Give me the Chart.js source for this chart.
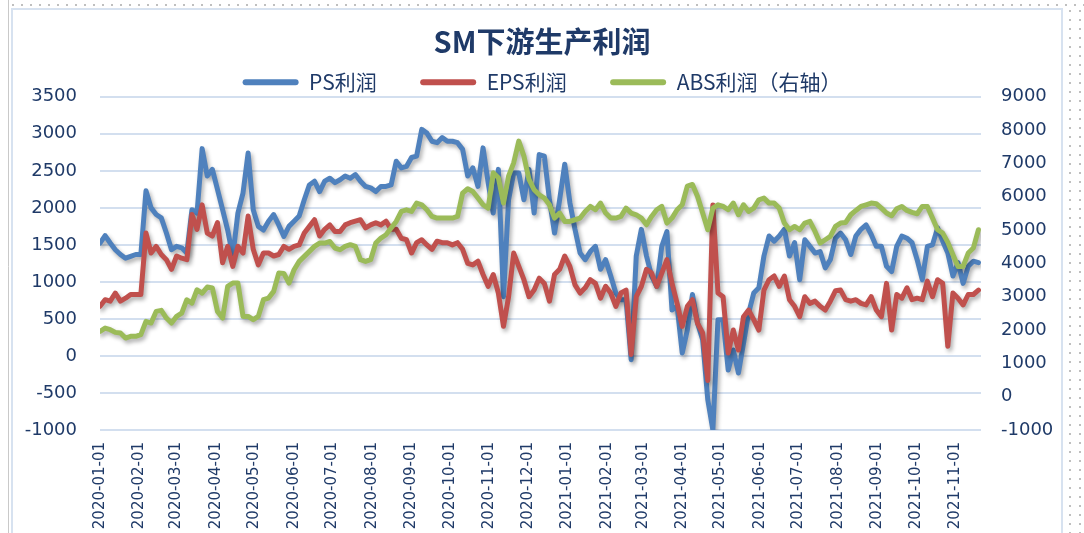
<!DOCTYPE html>
<html>
<head>
<meta charset="utf-8">
<script src="https://cdn.jsdelivr.net/npm/chart.js@4/dist/chart.umd.min.js"></script>
<style>
  html, body { margin: 0; padding: 0; background: #fff; }
  canvas { display: block; }
</style>
</head>
<body>
<canvas id="chart" width="1084" height="533"></canvas>
<script>
// sampled every 4 days starting 2020-01-01
const startDate = "2020-01-01";
const stepDays = 4;

const psProfit = [
  1525, 1625, 1525, 1435, 1370, 1320, 1345, 1370, 1370, 2230,
  2000, 1910, 1865, 1660, 1435, 1480, 1460, 1390, 1975, 1930,
  2800, 2430, 2520, 2250, 1975, 1700, 1345, 1930, 2200, 2740,
  1975, 1750, 1700, 1820, 1910, 1770, 1615, 1750, 1820, 1890,
  2110, 2310, 2360, 2220, 2360, 2400, 2340, 2380, 2430, 2400,
  2450, 2360, 2290, 2270, 2220, 2290, 2290, 2310, 2630, 2540,
  2560, 2680, 2700, 3060, 3010, 2900, 2880, 2950, 2900, 2900,
  2880, 2790, 2430, 2540, 2290, 2810, 2340, 1930, 2520, 800,
  2110, 2470, 2470, 2110, 2520, 1930, 2720, 2700, 2110, 1660,
  2110, 2590, 2070, 1710, 1390, 1300, 1410, 1480, 1170, 1300,
  1080, 850, 760, 760, -50, 1350, 1710, 1350, 1080, 940,
  1480, 1680, 620, 670, 40, 350, 830, 440, 220, -590,
  -1000, 490, 490, -190, 80, -230, 170, 580, 850, 920,
  1350, 1620, 1550, 1620, 1710, 1350, 1530, 1030, 1570, 1480,
  1390, 1410, 1190, 1300, 1590, 1660, 1570, 1370, 1620, 1710,
  1770, 1640, 1480, 1480, 1210, 1140, 1480, 1620, 1590, 1530,
  1300, 1030, 1480, 1500, 1730, 1550, 1390, 1080, 1260, 980,
  1210, 1280, 1260
];

const epsProfit = [
  670, 760, 740, 850, 740, 780, 830, 830, 830, 1660,
  1390, 1480, 1370, 1300, 1170, 1350, 1320, 1300, 1910, 1710,
  2040, 1660, 1620, 1800, 1260, 1480, 1210, 1480, 1390, 1890,
  1440, 1230, 1390, 1390, 1350, 1370, 1480, 1440, 1480, 1500,
  1660, 1750, 1840, 1620, 1710, 1770, 1680, 1680, 1770, 1800,
  1820, 1840, 1730, 1770, 1800, 1770, 1820, 1710, 1710, 1590,
  1570, 1390, 1530, 1570, 1500, 1440, 1550, 1530, 1530, 1500,
  1530, 1440, 1250, 1230, 1280, 1100, 940, 1100, 850, 400,
  800, 1390, 1210, 1030, 800, 890, 1050, 980, 740, 1100,
  1170, 1350, 1210, 960, 850, 920, 1030, 980, 780, 940,
  850, 670, 850, 890, 20, 800, 940, 1170, 1120, 940,
  1120, 1300, 980, 710, 400, 670, 760, 440, 310, -330,
  2040, 850, 800, 40, 350, 80, 530, 620, 490, 350,
  890, 1030, 1080, 940, 1080, 760, 670, 530, 800, 710,
  740, 670, 620, 740, 880, 890, 760, 740, 760, 710,
  690, 800, 620, 530, 980, 350, 830, 780, 920, 760,
  780, 760, 1010, 800, 1030, 980, 130, 850, 780, 690,
  830, 830, 890
];

// right axis
const absProfit = [
  1960, 2060, 2010, 1930, 1910, 1760, 1810, 1810, 1860, 2260,
  2210, 2560, 2590, 2360, 2210, 2410, 2510, 2910, 2810, 3210,
  3110, 3290, 3260, 2560, 2360, 3310, 3410, 3410, 2410, 2410,
  2310, 2410, 2910, 2960, 3160, 3710, 3700, 3410, 3810, 4060,
  4210, 4360, 4510, 4610, 4610, 4660, 4460, 4410, 4510, 4560,
  4510, 4110, 4060, 4110, 4610, 4760, 4860, 5060, 5260, 5560,
  5610, 5560, 5810, 5760, 5610, 5410, 5360, 5360, 5360, 5360,
  5410, 6110, 6240, 6160, 5960, 5760, 5660, 6720, 6570, 5810,
  6620, 7020, 7670, 7220, 6520, 6210, 6060, 5960, 5760, 5360,
  5510, 5260, 5260, 5310, 5360, 5560, 5710, 5610, 5810, 5510,
  5360, 5360, 5410, 5660, 5510, 5460, 5360, 5160, 5410, 5610,
  5710, 5210, 5360, 5610, 5760, 6320, 6370, 6010, 5510, 5010,
  5660, 5760, 5710, 5610, 5810, 5460, 5760, 5560, 5660, 5910,
  5960, 5810, 5810, 5660, 5210, 5010, 5110, 5010, 5210, 5260,
  4960, 4610, 4710, 4810, 5110, 5210, 5230, 5460, 5590, 5710,
  5760, 5810, 5790, 5660, 5510, 5430, 5640, 5710, 5590, 5530,
  5490, 5710, 5710, 5360, 5010, 4910, 4630, 4260, 3910, 3910,
  4310, 4460, 5010
];

const leftTicks = { min: -1000, max: 3500, step: 500 };
const rightTicks = { min: -1000, max: 9000, step: 1000 };
const lastDay = 690;

const navy = "#1f3a68";
const dayMs = 86400000;
const t0 = Date.parse(startDate + "T00:00:00Z");

function toPoints(values) {
  return values.map((v, i) => ({ x: i * stepDays, y: v }));
}

function dayLabel(day) {
  const d = new Date(t0 + day * dayMs);
  const mm = String(d.getUTCMonth() + 1).padStart(2, "0");
  const dd = String(d.getUTCDate()).padStart(2, "0");
  return `${d.getUTCFullYear()}-${mm}-${dd}`;
}

// first day of each month on the axis
const monthTicks = [];
for (let y = 2020; y <= 2021; y++) {
  for (let m = 0; m < 12; m++) {
    const day = (Date.UTC(y, m, 1) - t0) / dayMs;
    if (day <= lastDay) monthTicks.push(day);
  }
}

const framePlugin = {
  id: "frame",
  beforeDraw(chart) {
    const c = chart.ctx;
    c.save();
    c.fillStyle = "#fff";
    c.fillRect(0, 0, chart.width, chart.height);
    c.strokeStyle = "#c9c9c9";
    c.lineWidth = 1;
    c.beginPath();
    c.moveTo(8.5, 0);
    c.lineTo(8.5, chart.height);
    c.stroke();
    c.fillStyle = "#bfbfbf";
    for (let x = 12; x < chart.width; x += 9) c.fillRect(x, 4, 2, 2);
    for (let y = 10; y < chart.height; y += 9) {
      c.fillRect(1069, y, 2, 2);
      c.fillRect(1079, y, 2, 2);
    }
    c.strokeStyle = "#d7e2f0";
    c.lineWidth = 2;
    c.strokeRect(12, 9, 1050, chart.height + 10);
    c.restore();
  },
};

const shadowPlugin = {
  id: "lineShadow",
  beforeDatasetsDraw(chart) {
    const c = chart.ctx;
    c.save();
    c.shadowColor = "rgba(0,0,0,0.32)";
    c.shadowBlur = 4;
    c.shadowOffsetX = 2;
    c.shadowOffsetY = 3;
  },
  afterDatasetsDraw(chart) {
    chart.ctx.restore();
  },
};

function lineSet(label, values, color, axis) {
  return {
    label,
    data: toPoints(values),
    borderColor: color,
    backgroundColor: color,
    borderWidth: 5,
    pointRadius: 0,
    tension: 0,
    borderJoinStyle: "round",
    borderCapStyle: "round",
    yAxisID: axis,
  };
}

new Chart(document.getElementById("chart"), {
  type: "line",
  data: {
    // drawn last = on top, legend reversed back to PS, EPS, ABS
    datasets: [
      lineSet("ABS利润（右轴）", absProfit, "#9bbb59", "y1"),
      lineSet("EPS利润", epsProfit, "#c0504d", "y"),
      lineSet("PS利润", psProfit, "#4f81bd", "y"),
    ],
  },
  options: {
    responsive: false,
    animation: false,
    devicePixelRatio: 1,
    layout: { padding: 0 },
    plugins: {
      tooltip: { enabled: false },
      title: {
        display: true,
        text: "SM下游生产利润",
        color: navy,
        font: { family: "'Noto Sans CJK SC'", size: 29, weight: "bold" },
        padding: { top: 25, bottom: 0 },
      },
      legend: {
        display: true,
        reverse: true,
        maxHeight: 37,
        labels: {
          color: navy,
          font: { family: "'Noto Sans CJK SC'", size: 21 },
          boxWidth: 56,
          boxHeight: 6,
          padding: 12,
          useBorderRadius: true,
          borderRadius: 3,
          generateLabels(chart) {
            const items = Chart.defaults.plugins.legend.labels.generateLabels(chart);
            return items.map((it) => ({
              ...it,
              lineWidth: 0,
              fillStyle: it.strokeStyle,
              text: it.text.startsWith("ABS") ? it.text : it.text + "\u3000\u2002",
            }));
          },
        },
      },
    },
    scales: {
      x: {
        type: "linear",
        min: 0,
        max: lastDay,
        grid: { display: false, drawTicks: false },
        border: { display: false },
        afterBuildTicks(s) {
          s.ticks = monthTicks.map((v) => ({ value: v }));
        },
        afterFit(s) {
          s.height = 103;
        },
        ticks: {
          autoSkip: false,
          minRotation: 90,
          maxRotation: 90,
          padding: 12,
          color: navy,
          font: { family: "'DejaVu Sans'", size: 15 },
          callback: (v) => dayLabel(v),
        },
      },
      y: {
        position: "left",
        min: leftTicks.min,
        max: leftTicks.max,
        grid: { color: "#d3dfef", lineWidth: 2, drawTicks: false },
        border: { display: false },
        afterFit(s) {
          s.width = 100;
        },
        ticks: {
          stepSize: leftTicks.step,
          padding: 23,
          color: navy,
          font: { family: "'DejaVu Sans'", size: 18 },
          callback: (v) => String(v),
        },
      },
      y1: {
        position: "right",
        min: rightTicks.min,
        max: rightTicks.max,
        grid: { drawOnChartArea: false, drawTicks: false },
        border: { display: false },
        afterFit(s) {
          s.width = 103;
        },
        ticks: {
          stepSize: rightTicks.step,
          padding: 20,
          color: navy,
          font: { family: "'DejaVu Sans'", size: 18 },
          callback: (v) => String(v),
        },
      },
    },
  },
  plugins: [framePlugin, shadowPlugin],
});
</script>
</body>
</html>
